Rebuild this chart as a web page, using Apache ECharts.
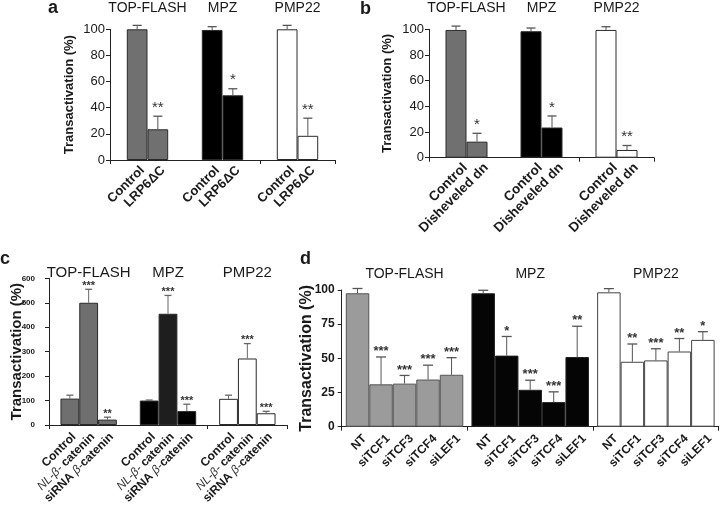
<!DOCTYPE html>
<html><head><meta charset="utf-8">
<script src="https://cdn.jsdelivr.net/npm/echarts@6/dist/echarts.min.js"></script>
<style>html,body{margin:0;padding:0;background:#fff}#c{width:720px;height:516px}</style>
</head><body><div id="c"></div>
<script>
// ---------- DATA ----------
const groups = ['TOP-FLASH', 'MPZ', 'PMP22'];

// Panel a
const aBars = ['Control', 'LRP6ΔC'];
const aControl = [100, 99.5, 100];
const aControlErr = [3, 2.5, 3];
const aLRP6 = [23.5, 49.5, 18.5];
const aLRP6Err = [10, 5, 13.5];
const aStars = [['', '', ''], ['**', '*', '**']];
const aTicks = [0, 20, 40, 60, 80, 100];

// Panel b
const bBars = ['Control', 'Disheveled dn'];
const bControl = [99.5, 98.5, 99.5];
const bControlErr = [3, 2.5, 2.5];
const bDn = [12.5, 23.5, 6];
const bDnErr = [6.5, 9, 3.5];
const bStars = [['', '', ''], ['*', '*', '**']];
const bTicks = [0, 20, 40, 60, 80, 100];

// Panel c
const cBars = ['Control', 'NL-β- catenin', 'siRNA β-catenin'];
const cControl = [108, 100, 107];
const cControlErr = [14, 2, 15];
const cNL = [500, 455, 272];
const cNLErr = [55, 75, 61];
const cSi = [22, 57, 48];
const cSiErr = [10, 28, 8];
const cStars = [['', '', ''], ['***', '***', '***'], ['**', '***', '***']];
const cTicks = [0, 100, 200, 300, 400, 500, 600];

// Panel d
const dBars = ['NT', 'siTCF1', 'siTCF3', 'siTCF4', 'siLEF1'];
const dNT = [97.6, 97.6, 98.3];
const dNTErr = [3.5, 2.2, 2.7];
const dTCF1 = [31, 52, 47.5];
const dTCF1Err = [20, 14, 13];
const dTCF3 = [31.5, 27, 48.5];
const dTCF3Err = [6, 7, 8.5];
const dTCF4 = [34.5, 18, 55];
const dTCF4Err = [10.5, 7.5, 9.5];
const dLEF1 = [38, 51, 63.5];
const dLEF1Err = [12.5, 22.5, 6];
const dStars = [['', '', ''], ['***', '*', '**'], ['***', '***', '***'], ['***', '***', '**'], ['***', '**', '*']];
const dTicks = [0, 25, 50, 75, 100];

// ---------- STYLE / LAYOUT ----------
const FONT = '"Liberation Sans", Arial, sans-serif';
const INK = '#1a1a1a';

const panels = [
  {
    bars: aBars, values: [aControl, aLRP6], errors: [aControlErr, aLRP6Err], stars: aStars, ticks: aTicks,
    grid: {left: 110, top: 29.3, width: 225, height: 130.7},
    barW: 20.7, cap: 9, errColor: '#555', starFont: '15px ' + FONT, starDy: 0,
    fill: (g, s) => ['#707070', '#000000', '#ffffff'][g], border: g => '#2a2a2a',
    yLabel: {fontSize: 13, fontWeight: 'normal', margin: 5},
    yName: {fontSize: 13, gap: 34},
    titleFont: 14, titleMargin: 14,
    xLabel: {fontSize: 13, distance: 3, offset: [0, 1]}
  },
  {
    bars: bBars, values: [bControl, bDn], errors: [bControlErr, bDnErr], stars: bStars, ticks: bTicks,
    grid: {left: 429, top: 29.3, width: 225, height: 128.4},
    barW: 21, cap: 9, errColor: '#555', starFont: '15px ' + FONT, starDy: 0,
    fill: (g, s) => ['#707070', '#000000', '#ffffff'][g], border: g => '#2a2a2a',
    yLabel: {fontSize: 13, fontWeight: 'normal', margin: 5},
    yName: {fontSize: 13, gap: 35},
    titleFont: 14, titleMargin: 14,
    xLabel: {fontSize: 13.5, distance: 3, offset: [3, 3]}
  },
  {
    bars: cBars, values: [cControl, cNL, cSi], errors: [cControlErr, cNLErr, cSiErr], stars: cStars, ticks: cTicks,
    grid: {left: 49, top: 278.3, width: 238, height: 146.7},
    barW: 18.8, cap: 7, errColor: '#666', starFont: 'bold 11px ' + FONT, starDy: 3,
    fill: (g, s) => g === 0 ? '#6f6f6f' : g === 1 ? (s === 1 ? '#1e1e1e' : '#000000') : '#ffffff',
    border: g => '#2a2a2a',
    yLabel: {fontSize: 8, fontWeight: 'bold', margin: 14},
    yName: {fontSize: 15, gap: 25},
    titleFont: 15, titleMargin: -2,
    xLabel: {fontSize: 12, distance: 3, offset: [-2, 2]},
    rich: true
  },
  {
    bars: dBars, values: [dNT, dTCF1, dTCF3, dTCF4, dLEF1],
    errors: [dNTErr, dTCF1Err, dTCF3Err, dTCF4Err, dLEF1Err], stars: dStars, ticks: dTicks,
    grid: {left: 341.7, top: 290, width: 377, height: 136.7},
    barW: 23.5, cap: 10, errColor: '#555', starFont: 'bold 13px ' + FONT, starDy: 2,
    fill: (g, s) => ['#9b9b9b', '#050505', '#ffffff'][g],
    border: g => ['#555555', '#222222', '#444444'][g],
    yLabel: {fontSize: 12, fontWeight: 'bold', margin: 7},
    yName: {fontSize: 16, gap: 27},
    titleFont: 14, titleMargin: 9,
    xLabel: {fontSize: 12, distance: 3, offset: [0, 4]}
  }
];

const grids = [], xAxes = [], yAxes = [], series = [];

function richFormatter(name) {
  if (name.indexOf('NL-') === 0) return '{i|NL-β- }{b|catenin}';
  if (name.indexOf('siRNA') === 0) return '{b|siRNA }{i|β-}{b|catenin}';
  return '{b|' + name + '}';
}

panels.forEach((p, pi) => {
  grids.push(Object.assign({containLabel: false}, p.grid));
  xAxes.push({
    type: 'category', gridIndex: pi, data: groups, position: 'bottom',
    axisLine: {show: true, lineStyle: {color: '#222', width: 1}},
    axisTick: {show: true, length: 4, lineStyle: {color: '#222'}},
    axisLabel: {show: false}, splitLine: {show: false}
  });
  xAxes.push({
    type: 'category', gridIndex: pi, data: groups, position: 'top',
    axisLine: {show: false}, axisTick: {show: false}, splitLine: {show: false},
    axisLabel: {show: true, margin: p.titleMargin, fontSize: p.titleFont, color: INK, fontFamily: FONT, interval: 0}
  });
  const t = p.ticks;
  yAxes.push({
    type: 'value', gridIndex: pi, min: t[0], max: t[t.length - 1], interval: t[1] - t[0],
    axisLine: {show: true, lineStyle: {color: '#222', width: 1}},
    axisTick: {show: true, length: 4, lineStyle: {color: '#222'}},
    splitLine: {show: false},
    axisLabel: {fontSize: p.yLabel.fontSize, fontWeight: p.yLabel.fontWeight, margin: p.yLabel.margin, color: INK, fontFamily: FONT},
    name: 'Transactivation (%)', nameLocation: 'middle', nameGap: p.yName.gap, nameRotate: 90,
    nameMoveOverlap: false,
    nameTextStyle: {fontSize: p.yName.fontSize, fontWeight: 'bold', color: INK, fontFamily: FONT}
  });

  p.bars.forEach((name, s) => {
    const label = {
      show: true, position: 'bottom', distance: p.xLabel.distance, offset: p.xLabel.offset,
      rotate: 45, align: 'right', verticalAlign: 'top',
      fontSize: p.xLabel.fontSize, fontWeight: 'bold', color: INK, fontFamily: FONT,
      formatter: () => name
    };
    if (p.rich) {
      label.formatter = () => richFormatter(name);
      label.rich = {
        b: {fontSize: p.xLabel.fontSize, fontWeight: 'bold', color: INK, fontFamily: FONT},
        i: {fontSize: p.xLabel.fontSize, fontWeight: 'normal', fontStyle: 'italic', color: '#333', fontFamily: FONT}
      };
    }
    series.push({
      type: 'bar', name: name, xAxisIndex: 2 * pi, yAxisIndex: pi,
      barWidth: p.barW, barGap: '0%', silent: true, animation: false,
      data: p.values[s].map((v, g) => ({
        value: v,
        itemStyle: {color: p.fill(g, s), borderColor: p.border(g), borderWidth: 1}
      })),
      label: label
    });
  });

  // error bars + significance stars
  const items = [], starsFlat = [];
  p.values.forEach((row, s) => row.forEach((v, g) => {
    items.push([g, s, v, p.errors[s][g]]);
    starsFlat.push(p.stars[s][g]);
  }));
  const n = p.values.length;
  series.push({
    type: 'custom', xAxisIndex: 2 * pi, yAxisIndex: pi, z: 5, clip: false, silent: true, animation: false,
    data: items,
    renderItem: (params, api) => {
      const g = api.value(0), s = api.value(1), v = api.value(2), e = api.value(3);
      const b = api.coord([g, v]);
      const top = api.coord([g, v + e]);
      const x = b[0] + (s - (n - 1) / 2) * p.barW;
      const children = [
        {type: 'line', shape: {x1: x, y1: b[1], x2: x, y2: top[1]}, style: {stroke: p.errColor, lineWidth: 1}},
        {type: 'line', shape: {x1: x - p.cap / 2, y1: top[1], x2: x + p.cap / 2, y2: top[1]}, style: {stroke: p.errColor, lineWidth: 1.3}}
      ];
      const st = starsFlat[params.dataIndex];
      if (st) children.push({
        type: 'text',
        style: {text: st, x: x, y: top[1] - 1 + p.starDy, align: 'center', verticalAlign: 'bottom', font: p.starFont, fill: '#333'}
      });
      return {type: 'group', children: children};
    }
  });
});

const chart = echarts.init(document.getElementById('c'), null, {renderer: 'canvas'});
chart.setOption({
  backgroundColor: '#ffffff',
  animation: false,
  textStyle: {fontFamily: FONT},
  title: [
    {text: 'a', left: 48, top: -1, padding: 0, textStyle: {fontSize: 18, fontWeight: 'bold', color: INK, fontFamily: FONT}},
    {text: 'b', left: 360, top: 0, padding: 0, textStyle: {fontSize: 18, fontWeight: 'bold', color: INK, fontFamily: FONT}},
    {text: 'c', left: 0, top: 250, padding: 0, textStyle: {fontSize: 18, fontWeight: 'bold', color: INK, fontFamily: FONT}},
    {text: 'd', left: 300, top: 250, padding: 0, textStyle: {fontSize: 18, fontWeight: 'bold', color: INK, fontFamily: FONT}}
  ],
  grid: grids,
  xAxis: xAxes,
  yAxis: yAxes,
  series: series
});
</script>
</body></html>
